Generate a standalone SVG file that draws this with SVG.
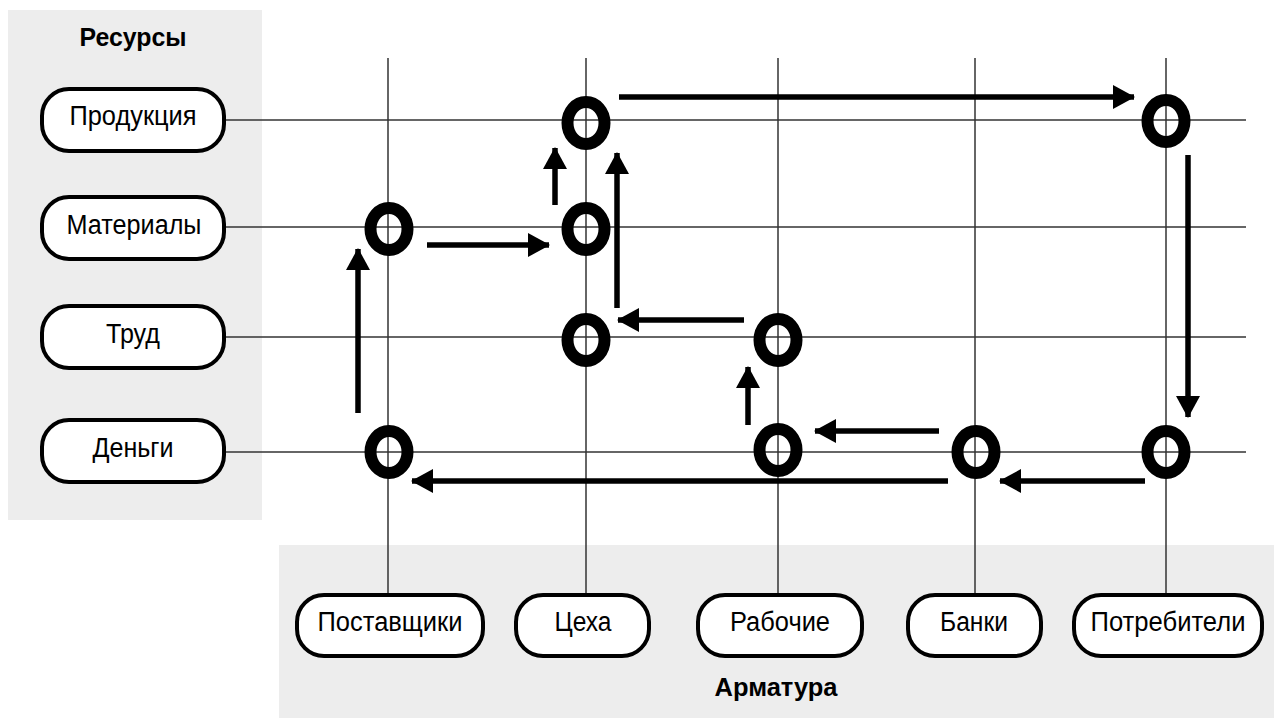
<svg xmlns="http://www.w3.org/2000/svg" width="1274" height="718" viewBox="0 0 1274 718">
<style>
.panel{fill:#ededed}
.grid{stroke:#333;stroke-width:1.5;fill:none}
.pill{fill:#fff;stroke:#000;stroke-width:4}
.lbl{font-family:"Liberation Sans",Arial,sans-serif;font-size:27px;fill:#000;text-anchor:middle}
.title{font-family:"Liberation Sans",Arial,sans-serif;font-size:26px;font-weight:bold;fill:#000;text-anchor:middle}
.ring{fill:none;stroke:#000;stroke-width:12}
.arr{stroke:#000;stroke-width:5.5;fill:none;marker-end:url(#ah)}
</style>
<defs>
<marker id="ah" viewBox="0 0 22 24" refX="21" refY="12" markerWidth="22" markerHeight="24" markerUnits="userSpaceOnUse" orient="auto">
<path d="M0,0 L22,12 L0,24 z" fill="#000"/>
</marker>
</defs>
<rect width="1274" height="718" fill="#fff"/>
<g id="panels">
<rect class="panel" x="8" y="10" width="254" height="510"/>
<rect class="panel" x="279" y="545" width="995" height="173"/>
<text class="title" x="133" y="46" textLength="107" lengthAdjust="spacingAndGlyphs">Ресурсы</text>
<text class="title" x="776" y="696" textLength="123" lengthAdjust="spacingAndGlyphs">Арматура</text>
</g>
<g id="grid">
<line class="grid" x1="224" y1="120" x2="1246" y2="120"/>
<line class="grid" x1="224" y1="227" x2="1246" y2="227"/>
<line class="grid" x1="224" y1="337" x2="1246" y2="337"/>
<line class="grid" x1="224" y1="452" x2="1246" y2="452"/>
<line class="grid" x1="388" y1="58" x2="388" y2="595"/>
<line class="grid" x1="586" y1="58" x2="586" y2="595"/>
<line class="grid" x1="778" y1="58" x2="778" y2="595"/>
<line class="grid" x1="975" y1="58" x2="975" y2="595"/>
<line class="grid" x1="1166" y1="58" x2="1166" y2="595"/>
</g>
<g id="res-produkciya"><rect class="pill" x="42" y="89" width="182" height="62" rx="27"/><text class="lbl" x="133" y="125" textLength="127" lengthAdjust="spacingAndGlyphs">Продукция</text></g>
<g id="res-materialy"><rect class="pill" x="42" y="197" width="182" height="62" rx="27"/><text class="lbl" x="134" y="234" textLength="135" lengthAdjust="spacingAndGlyphs">Материалы</text></g>
<g id="res-trud"><rect class="pill" x="42" y="306" width="182" height="62" rx="27"/><text class="lbl" x="133" y="343" textLength="54" lengthAdjust="spacingAndGlyphs">Труд</text></g>
<g id="res-dengi"><rect class="pill" x="42" y="420" width="182" height="62" rx="27"/><text class="lbl" x="133" y="457" textLength="81" lengthAdjust="spacingAndGlyphs">Деньги</text></g>
<g id="arm-postavshchiki"><rect class="pill" x="297" y="595" width="186" height="61" rx="27"/><text class="lbl" x="390" y="631" textLength="145" lengthAdjust="spacingAndGlyphs">Поставщики</text></g>
<g id="arm-tsekha"><rect class="pill" x="516" y="595" width="133" height="61" rx="27"/><text class="lbl" x="583" y="631" textLength="57" lengthAdjust="spacingAndGlyphs">Цеха</text></g>
<g id="arm-rabochie"><rect class="pill" x="698" y="595" width="164" height="61" rx="27"/><text class="lbl" x="780" y="631" textLength="100" lengthAdjust="spacingAndGlyphs">Рабочие</text></g>
<g id="arm-banki"><rect class="pill" x="908" y="595" width="133" height="61" rx="27"/><text class="lbl" x="974" y="631" textLength="68" lengthAdjust="spacingAndGlyphs">Банки</text></g>
<g id="arm-potrebiteli"><rect class="pill" x="1074" y="595" width="188" height="61" rx="27"/><text class="lbl" x="1168" y="631" textLength="155" lengthAdjust="spacingAndGlyphs">Потребители</text></g>
<g id="nodes">
<ellipse class="ring" cx="586" cy="123" rx="18.5" ry="21"/>
<ellipse class="ring" cx="1166" cy="121" rx="18.5" ry="21"/>
<ellipse class="ring" cx="389" cy="229" rx="18.5" ry="21"/>
<ellipse class="ring" cx="586" cy="229" rx="18.5" ry="21"/>
<ellipse class="ring" cx="586" cy="340" rx="18.5" ry="21"/>
<ellipse class="ring" cx="778" cy="340" rx="18.5" ry="21"/>
<ellipse class="ring" cx="389" cy="452" rx="18.5" ry="21"/>
<ellipse class="ring" cx="778" cy="450" rx="18.5" ry="21"/>
<ellipse class="ring" cx="976" cy="452" rx="18.5" ry="21"/>
<ellipse class="ring" cx="1166" cy="452" rx="18.5" ry="21"/>
</g>
<g id="connectors">
<line class="arr" x1="619" y1="97" x2="1134" y2="97"/>
<line class="arr" x1="1188" y1="155" x2="1188" y2="417"/>
<line class="arr" x1="1145" y1="481" x2="1000" y2="481"/>
<line class="arr" x1="939" y1="431" x2="815" y2="431"/>
<line class="arr" x1="948" y1="481" x2="412" y2="481"/>
<line class="arr" x1="358" y1="413" x2="358" y2="249"/>
<line class="arr" x1="427" y1="245" x2="549" y2="245"/>
<line class="arr" x1="555" y1="205" x2="555" y2="148"/>
<line class="arr" x1="617" y1="308" x2="617" y2="153"/>
<line class="arr" x1="744" y1="320" x2="618" y2="320"/>
<line class="arr" x1="748" y1="425" x2="748" y2="367"/>
</g>
</svg>
